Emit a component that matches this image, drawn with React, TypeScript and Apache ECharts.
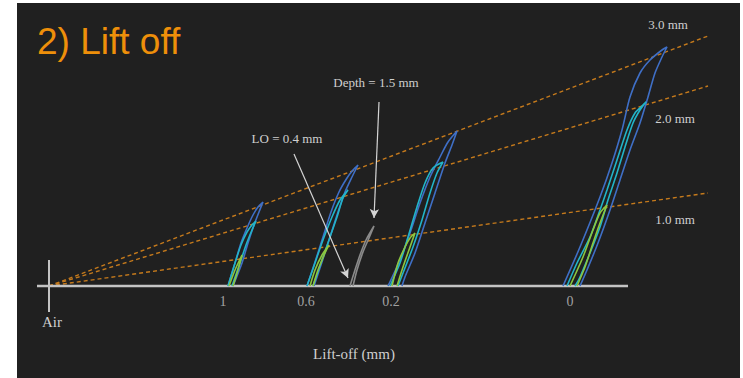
import React, { useEffect, useRef } from 'react';
import * as echarts from 'echarts';

// Coordinate system: x = horizontal position (origin at "Air"), y = height above the baseline
const TICK_POSITIONS = [174, 257, 342, 521];
const TICK_LABELS = ['1', '0.6', '0.2', '0'];

const BASELINE = [[-12, 0], [579, 0]];
const AIR_TICK = [[0, 26], [0, -26]];

// Reference lines from the "Air" origin for each depth
const DEPTH_LINE_3MM = [[0, 0], [659, 250]];
const DEPTH_LINE_2MM = [[0, 0], [659, 200]];
const DEPTH_LINE_1MM = [[0, 0], [659, 93]];

// Lift-off 1
const BLUE_LO1 = [[179, 0], [186, 23], [192, 43], [198, 58], [204, 71], [209, 79], [214, 84], [210, 74], [205, 61], [199, 43], [193, 23], [184, 0]];
const CYAN_LO1 = [[179, 0], [186, 23], [192, 41], [198, 54], [203, 61], [207, 65], [203, 56], [197, 41], [191, 23], [183, 0]];
const GREEN_LO1 = [[180, 0], [186, 16], [193, 31], [189, 16], [184, 0]];

// Lift-off 0.6
const BLUE_LO06 = [[258, 0], [266, 24], [274, 49], [282, 74], [290, 94], [298, 108], [304, 116], [309, 121], [303, 109], [296, 94], [289, 74], [281, 49], [273, 24], [265, 0]];
const CYAN_LO06 = [[258, 0], [266, 23], [274, 46], [283, 69], [291, 86], [299, 96], [294, 88], [288, 69], [281, 49], [273, 26], [264, 0]];
const GREEN_LO06 = [[261, 0], [266, 16], [273, 31], [280, 41], [276, 33], [269, 16], [264, 0]];

// Lift-off 0.4, depth 1.5 mm (gray)
const GRAY_LO04 = [[301, 0], [306, 16], [311, 31], [317, 46], [325, 60], [320, 48], [314, 34], [308, 16], [304, 0]];

// Lift-off 0.2
const BLUE_LO02 = [[339, 0], [351, 26], [361, 53], [371, 83], [381, 109], [391, 129], [399, 144], [408, 155], [403, 141], [396, 123], [386, 93], [376, 63], [366, 33], [356, 9], [353, 0]];
const CYAN_LO02 = [[341, 0], [351, 23], [359, 49], [368, 79], [376, 103], [384, 118], [394, 124], [388, 113], [381, 93], [373, 66], [364, 39], [354, 13], [349, 0]];
const GREEN_LO02 = [[343, 0], [349, 23], [356, 39], [361, 48], [366, 53], [361, 39], [354, 19], [348, 0]];

// Lift-off 0
const BLUE_LO0 = [[514, 0], [531, 39], [551, 89], [563, 123], [573, 156], [581, 189], [591, 213], [601, 226], [613, 236], [618, 239], [613, 229], [606, 213], [599, 189], [591, 163], [581, 136], [571, 106], [561, 76], [549, 43], [538, 16], [531, 0]];
const CYAN_LO0 = [[518, 0], [528, 23], [541, 49], [551, 76], [558, 96], [568, 126], [578, 156], [586, 173], [593, 180], [597, 184], [591, 176], [584, 163], [576, 139], [568, 113], [559, 86], [551, 59], [541, 33], [531, 9], [526, 0]];
const GREEN_LO0 = [[521, 0], [534, 29], [544, 56], [551, 73], [558, 81], [551, 63], [544, 43], [536, 19], [528, 0]];

const ARROW_LO = [[245, 132], [299, 8]];
const ARROW_DEPTH = [[330, 184], [325, 68]];

const BLUE = '#3f6fc6';
const CYAN = '#22b4c8';
const GREEN = '#8cc63f';
const GRAY = '#8a8a8a';
const ORANGE = '#c57a1c';
const AXIS = '#c4c4c4';
const TEXT = '#cfcfcf';
const SERIF = '"Liberation Serif", "Times New Roman", serif';

function loop(name: string, data: number[][], color: string, z = 3) {
  return {
    type: 'line',
    name,
    data,
    smooth: 0.25,
    showSymbol: false,
    symbol: 'none',
    silent: true,
    lineStyle: { color, width: 1.6 },
    z,
  };
}

function straight(name: string, data: number[][], color: string, width: number, type: any, z: number) {
  return {
    type: 'line',
    name,
    data,
    showSymbol: false,
    symbol: 'none',
    silent: true,
    lineStyle: { color, width, type },
    z,
  };
}

export default function App() {
  const ref = useRef<HTMLDivElement>(null);

  useEffect(() => {
    const chart = echarts.init(ref.current!, null, { renderer: 'svg' });
    const option: any = {
      animation: false,
      backgroundColor: 'transparent',
      grid: { left: 0, right: 0, top: 0, bottom: 0, outerBoundsMode: 'none' },
      xAxis: { type: 'value', min: -49, max: 694, show: false },
      yAxis: { type: 'value', min: -92, max: 286, show: false },
      graphic: [
        { type: 'rect', z: -10, shape: { x: 17, y: 3, width: 723, height: 375 }, style: { fill: '#202020' } },
        { type: 'text', x: 37, y: 41, style: { text: '2) Lift off', fill: '#ee8f0a', font: '37px "Liberation Sans", Arial, sans-serif', verticalAlign: 'middle' } },
        { type: 'text', x: 52, y: 322, style: { text: 'Air', fill: TEXT, font: `15px ${SERIF}`, align: 'center', verticalAlign: 'middle' } },
        { type: 'text', x: 354, y: 354, style: { text: 'Lift-off (mm)', fill: TEXT, font: `15px ${SERIF}`, align: 'center', verticalAlign: 'middle' } },
        { type: 'text', x: 668, y: 24, style: { text: '3.0 mm', fill: TEXT, font: `13px ${SERIF}`, align: 'center', verticalAlign: 'middle' } },
        { type: 'text', x: 675, y: 118, style: { text: '2.0 mm', fill: TEXT, font: `13px ${SERIF}`, align: 'center', verticalAlign: 'middle' } },
        { type: 'text', x: 675, y: 219, style: { text: '1.0 mm', fill: TEXT, font: `13px ${SERIF}`, align: 'center', verticalAlign: 'middle' } },
        { type: 'text', x: 287, y: 138, style: { text: 'LO = 0.4 mm', fill: TEXT, font: `13px ${SERIF}`, align: 'center', verticalAlign: 'middle' } },
        { type: 'text', x: 376, y: 82, style: { text: 'Depth = 1.5 mm', fill: TEXT, font: `13px ${SERIF}`, align: 'center', verticalAlign: 'middle' } },
      ],
      series: [
        straight('3.0 mm line', DEPTH_LINE_3MM, ORANGE, 1.4, [4, 3], 2),
        straight('2.0 mm line', DEPTH_LINE_2MM, ORANGE, 1.4, [4, 3], 2),
        straight('1.0 mm line', DEPTH_LINE_1MM, ORANGE, 1.4, [4, 3], 2),
        straight('baseline', BASELINE, AXIS, 2.5, 'solid', 2),
        straight('Air tick', AIR_TICK, AXIS, 2, 'solid', 2),
        {
          type: 'scatter',
          name: 'tick labels',
          data: TICK_POSITIONS.map((x, i) => ({ value: [x, 0], name: TICK_LABELS[i] })),
          symbolSize: 0,
          silent: true,
          label: {
            show: true,
            position: 'bottom',
            distance: 8,
            formatter: (p: any) => p.name,
            color: AXIS,
            fontFamily: SERIF,
            fontSize: 14,
          },
          z: 2,
        },
        loop('3.0 mm @ 1', BLUE_LO1, BLUE),
        loop('2.0 mm @ 1', CYAN_LO1, CYAN),
        loop('1.0 mm @ 1', GREEN_LO1, GREEN),
        loop('3.0 mm @ 0.6', BLUE_LO06, BLUE),
        loop('2.0 mm @ 0.6', CYAN_LO06, CYAN),
        loop('1.0 mm @ 0.6', GREEN_LO06, GREEN),
        loop('1.5 mm @ 0.4', GRAY_LO04, GRAY),
        loop('3.0 mm @ 0.2', BLUE_LO02, BLUE),
        loop('2.0 mm @ 0.2', CYAN_LO02, CYAN),
        loop('1.0 mm @ 0.2', GREEN_LO02, GREEN),
        loop('3.0 mm @ 0', BLUE_LO0, BLUE),
        loop('2.0 mm @ 0', CYAN_LO0, CYAN),
        loop('1.0 mm @ 0', GREEN_LO0, GREEN),
        {
          type: 'line',
          name: 'arrows',
          data: [],
          silent: true,
          markLine: {
            silent: true,
            animation: false,
            symbol: ['none', 'arrow'],
            symbolSize: [7, 9],
            label: { show: false },
            lineStyle: { color: '#d4d4d4', width: 1.2, type: 'solid' },
            data: [
              [{ coord: ARROW_LO[0] }, { coord: ARROW_LO[1] }],
              [{ coord: ARROW_DEPTH[0] }, { coord: ARROW_DEPTH[1] }],
            ],
          },
          z: 4,
        },
      ],
    };
    chart.setOption(option);
    return () => chart.dispose();
  }, []);

  return (
    <div style={{ position: 'absolute', left: 0, top: 0, width: 743, height: 378, background: '#ffffff' }}>
      <div ref={ref} style={{ width: 743, height: 378 }} />
    </div>
  );
}
